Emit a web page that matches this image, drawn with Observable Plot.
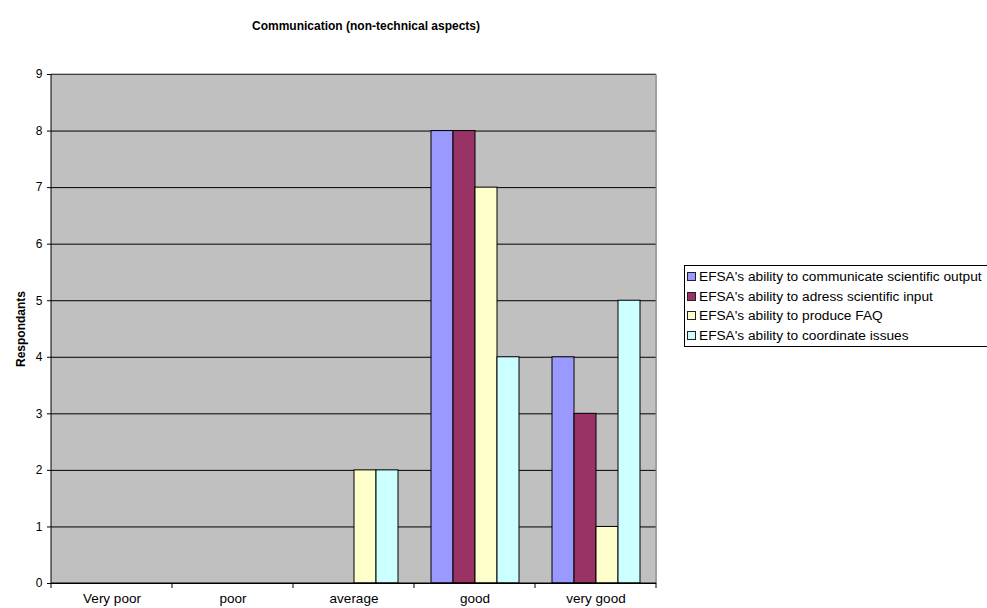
<!DOCTYPE html>
<html>
<head>
<meta charset="utf-8">
<script src="https://cdn.jsdelivr.net/npm/d3@7"></script>
<script src="https://cdn.jsdelivr.net/npm/@observablehq/plot@0.6"></script>
<style>
  body { margin: 0; background: #fff; font-family: Arial, "Liberation Sans", sans-serif; }
  #wrap { position: relative; width: 987px; height: 608px; overflow: hidden; }
  #title { height: 50px; width: 732px; text-align: center; font-weight: bold; font-size: 12px; line-height: 12px; padding-top: 20px; box-sizing: border-box; }
  #legend { position: absolute; left: 684px; top: 265px; width: 310px; height: 82px; border: 1px solid #000; box-sizing: border-box; background: #fff; padding-top: 1px; }
  .item { height: 19.5px; display: flex; align-items: center; font-size: 13.7px; padding-left: 2px; white-space: nowrap; }
  .sw { width: 7px; height: 7px; border: 1px solid #222; margin-right: 3px; flex: none; }
</style>
</head>
<body>
<div id="wrap">
  <div id="title">Communication (non-technical aspects)</div>
  <div id="chart"></div>
  <div id="legend"></div>
</div>
<script>
const categories = ["Very poor", "poor", "average", "good", "very good"];
const series = [
  "EFSA's ability to communicate scientific output",
  "EFSA's ability to adress scientific input",
  "EFSA's ability to produce FAQ",
  "EFSA's ability to coordinate issues"
];
const communicateOutput = [0, 0, 0, 8, 4];
const adressInput = [0, 0, 0, 8, 3];
const produceFAQ = [0, 0, 2, 7, 1];
const coordinateIssues = [0, 0, 2, 4, 5];
const yTicks = [0, 1, 2, 3, 4, 5, 6, 7, 8, 9];
const colors = ["#9999FF", "#993366", "#FFFFCC", "#CCFFFF"];

const allValues = [communicateOutput, adressInput, produceFAQ, coordinateIssues];
const rows = [];
series.forEach((s, i) => categories.forEach((c, j) => rows.push({category: c, series: s, value: allValues[i][j]})));

const chart = Plot.plot({
  width: 987,
  height: 558,
  marginLeft: 51,
  marginRight: 331,
  marginTop: 24,
  marginBottom: 25,
  style: {fontFamily: "Arial, 'Liberation Sans', sans-serif", fontSize: "12px", background: "transparent"},
  fx: {domain: categories, padding: 0, label: null, tickSize: 0, tickPadding: 10},
  x: {domain: series, paddingInner: 0, paddingOuter: 0.75, axis: null},
  y: {domain: [0, 9], ticks: yTicks, tickSize: 4, tickPadding: 5, line: true, label: "Respondants", labelArrow: "none", labelAnchor: "center", labelOffset: 35},
  color: {domain: series, range: colors},
  marks: [
    Plot.frame({fill: "#C0C0C0", stroke: null, shapeRendering: "crispEdges", insetLeft: -0.5, insetRight: -0.5}),
    Plot.ruleY(yTicks, {stroke: "#000", strokeWidth: 1}),
    Plot.barY(rows, {fx: "category", x: "series", y: "value", fill: "series", stroke: "#000", strokeWidth: 1})
  ]
});
document.getElementById("chart").appendChild(chart);

// extra decorations using the plot's own scales
const svg = d3.select(chart.tagName.toLowerCase() === "svg" ? chart : chart.querySelector("svg"));
svg.selectAll("[aria-label='y-axis label'] text, [aria-label='y-axis label']").attr("font-weight", "bold");
svg.selectAll("[aria-label='y-axis label'] text").text(function() { return this.textContent.replace(/\s*[↑→]\s*/g, ""); });
svg.selectAll("[aria-label='fx-axis tick label'] text, [aria-label='fx-axis tick label']").attr("font-size", "13.5px");
const fx = chart.scale("fx");
const y = chart.scale("y");
const y0 = y.apply(0), y9 = y.apply(9);
const bounds = categories.map(c => fx.apply(c));
bounds.push(fx.apply(categories[categories.length - 1]) + fx.bandwidth);
const g = svg.append("g");
bounds.forEach(b => {
  g.append("line").attr("x1", b).attr("x2", b).attr("y1", y0).attr("y2", y0 + 5).attr("stroke", "#000");
});
const right = bounds[bounds.length - 1];
g.append("line").attr("x1", right).attr("x2", right).attr("y1", y9).attr("y2", y0).attr("stroke", "#808080");
g.append("line").attr("x1", bounds[0]).attr("x2", right).attr("y1", y9).attr("y2", y9).attr("stroke", "#808080");
g.append("line").attr("x1", bounds[0]).attr("x2", right).attr("y1", y0).attr("y2", y0).attr("stroke", "#000");
g.append("line").attr("x1", bounds[0]).attr("x2", bounds[0]).attr("y1", y9).attr("y2", y0).attr("stroke", "#000");

const legend = d3.select("#legend");
series.forEach((s, i) => {
  const it = legend.append("div").attr("class", "item");
  it.append("div").attr("class", "sw").style("background", colors[i]);
  it.append("span").text(s);
});
</script>
</body>
</html>
